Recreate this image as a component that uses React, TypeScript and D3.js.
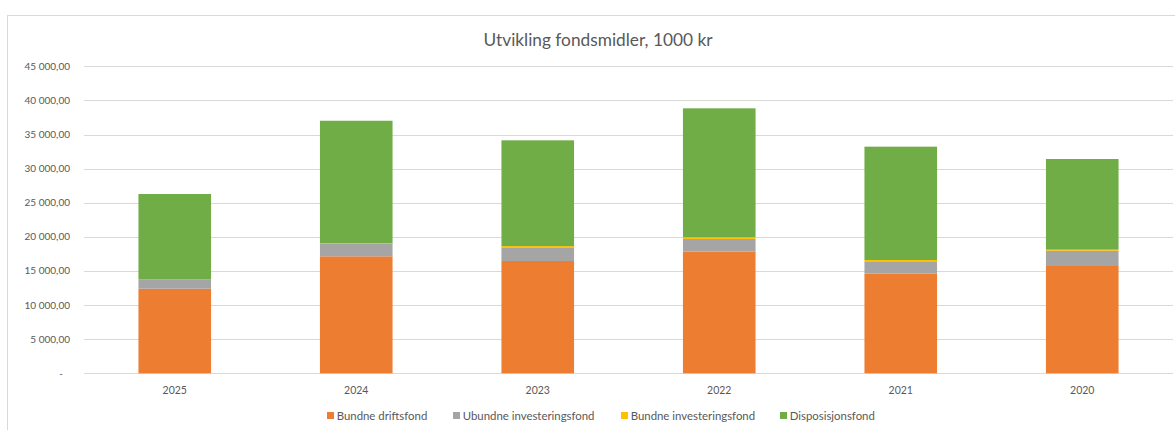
import React from "react";
import * as d3 from "d3";

const categories = ["2025", "2024", "2023", "2022", "2021", "2020"];
const seriesNames = ["Bundne driftsfond", "Ubundne investeringsfond", "Bundne investeringsfond", "Disposisjonsfond"];
const bundneDriftsfond = [12400, 17150, 16460, 17830, 14600, 15730];
const ubundneInvesteringsfond = [1380, 1850, 2010, 1860, 1820, 2240];
const bundneInvesteringsfond = [0, 40, 180, 250, 190, 150];
const disposisjonsfond = [12500, 17980, 15500, 18900, 16610, 13290];
const yTicks = [0, 5000, 10000, 15000, 20000, 25000, 30000, 35000, 40000, 45000];
const colors = ["#ED7D31", "#A5A5A5", "#FFC000", "#70AD47"];

const W = 1175;
const H = 430;
const FONT = "Lato, 'Open Sans', sans-serif";

const locale = d3.formatLocale({ decimal: ",", thousands: "\u00a0", grouping: [3], currency: ["", " kr"] });
const fmt = locale.format(",.2f");

export default function App() {
  const values = [bundneDriftsfond, ubundneInvesteringsfond, bundneInvesteringsfond, disposisjonsfond];
  const rows = categories.map((c, i) => {
    const r: any = { cat: c };
    seriesNames.forEach((s, k) => (r[s] = values[k][i]));
    return r;
  });
  const stacked = d3.stack().keys(seriesNames)(rows);

  const x = d3.scaleBand().domain(categories).range([84, 1173]).paddingInner(0.6).paddingOuter(0.3);
  const y = d3.scaleLinear().domain([0, 45000]).range([373.3, 66.3]);

  const legendX = [327, 453, 621, 780];

  return (
    <div style={{ position: "absolute", left: 0, top: 0 }}>
      <svg width={W} height={H} style={{ display: "block", fontFamily: FONT }}>
        <rect x={0} y={0} width={W} height={H} fill="#fff" />
        <rect x={7.5} y={15.5} width={1300} height={600} fill="#fff" stroke="#D9D9D9" strokeWidth={1} />
        <text x={598} y={45.5} textAnchor="middle" fontSize={17.3} fill="#595959">
          Utvikling fondsmidler, 1000 kr
        </text>
        {yTicks.map((t) => (
          <g key={t}>
            <line x1={84} x2={1173} y1={Math.round(y(t)) + 0.5} y2={Math.round(y(t)) + 0.5} stroke="#D9D9D9" strokeWidth={1} />
            <text x={t === 0 ? 63 : 70} y={y(t) + 3.5} textAnchor="end" fontSize={10} fill="#595959">
              {t === 0 ? "-" : fmt(t)}
            </text>
          </g>
        ))}
        {stacked.map((layer, k) => (
          <g key={layer.key} fill={colors[k]}>
            {layer.map((d, i) => {
              const h = y(d[0]) - y(d[1]);
              if (h <= 0) return null;
              return (
                <rect
                  key={i}
                  x={x(categories[i])!}
                  y={y(d[1])}
                  width={x.bandwidth()}
                  height={h}
                />
              );
            })}
          </g>
        ))}
        {categories.map((c) => (
          <text key={c} x={x(c)! + x.bandwidth() / 2} y={394} textAnchor="middle" fontSize={10.5} fill="#595959">
            {c}
          </text>
        ))}
        {seriesNames.map((s, k) => (
          <g key={s}>
            <rect x={legendX[k]} y={412} width={7} height={7} fill={colors[k]} />
            <text x={legendX[k] + 9.7} y={419.5} fontSize={11.4} fill="#595959">
              {s}
            </text>
          </g>
        ))}
      </svg>
    </div>
  );
}
